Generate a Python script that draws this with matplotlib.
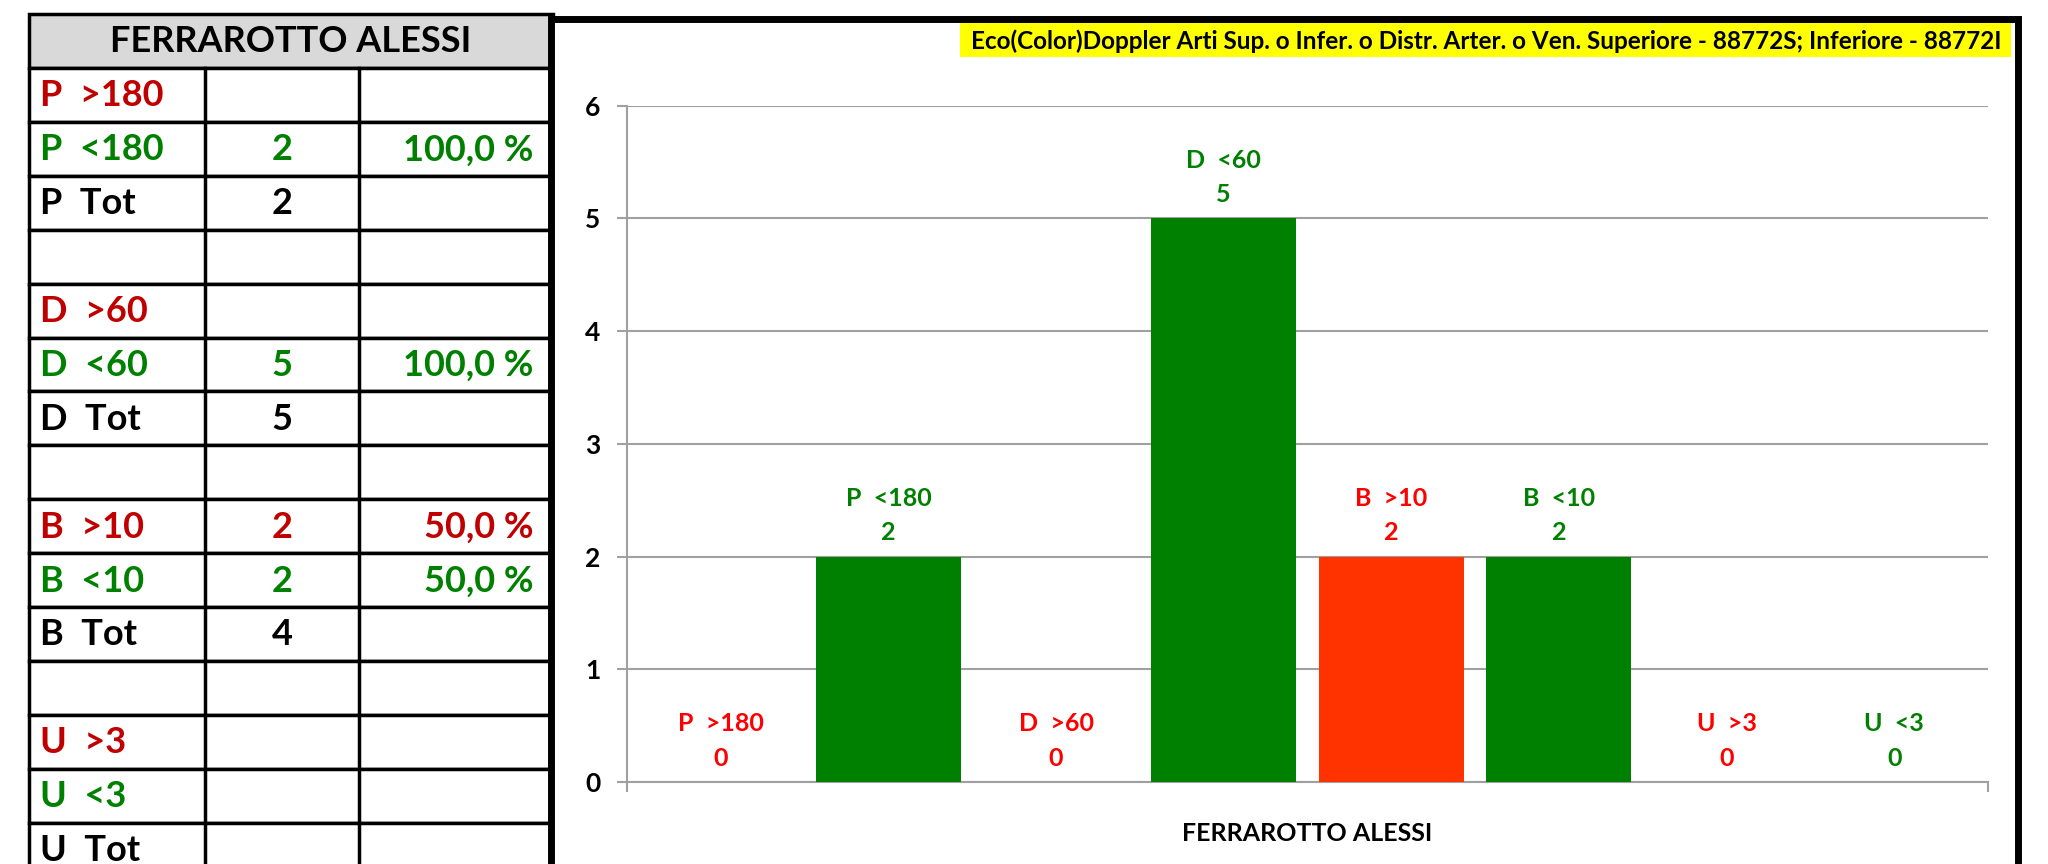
import matplotlib.pyplot as plt
from matplotlib.patches import Rectangle

plt.rcParams['font.family'] = ['Lato', 'DejaVu Sans']
plt.rcParams['font.weight'] = 'bold'
plt.rcParams['axes.labelweight'] = 'bold'

# chart data
categories = ["P  >180", "P  <180", "D  >60", "D  <60", "B  >10", "B  <10", "U  >3", "U  <3"]
values = [0, 2, 0, 5, 2, 2, 0, 0]
bar_colors = ["#ff3300", "#008000", "#ff3300", "#008000", "#ff3300", "#008000", "#ff3300", "#008000"]
label_colors = ["#ff0000", "#008000", "#ff0000", "#008000", "#ff0000", "#008000", "#ff0000", "#008000"]
group_name = "FERRAROTTO ALESSI"
title = "Eco(Color)Doppler Arti Sup. o Infer. o Distr. Arter. o Ven. Superiore - 88772S; Inferiore - 88772I"

# table data
row_labels = ["P  >180", "P  <180", "P  Tot", "", "D  >60", "D  <60", "D  Tot", "",
              "B  >10", "B  <10", "B  Tot", "", "U  >3", "U  <3", "U  Tot"]
row_counts = ["", "2", "2", "", "", "5", "5", "", "2", "2", "4", "", "", "", ""]
row_pcts = ["", "100,0 %", "", "", "", "100,0 %", "", "", "50,0 %", "50,0 %", "", "", "", "", ""]
row_colors = ["#c00000", "#008000", "black", "black"] * 4

W, H = 2048, 864
fig = plt.figure(figsize=(W / 100, H / 100), dpi=100)

# overlay in pixel units for the table and frame
ov = fig.add_axes([0, 0, 1, 1], zorder=0)
ov.set_xlim(0, W)
ov.set_ylim(H, 0)
ov.axis('off')

# table
x0, x1, x2, x3 = 29, 205, 359, 553
top, hdr_bot, rh = 14, 68, 53.9
ov.add_patch(Rectangle((x0, top), x3 - x0, hdr_bot - top, facecolor="#d9d9d9", edgecolor="black", lw=2.5))
ov.text((x0 + x3) / 2, (top + hdr_bot) / 2 + 1, group_name, ha='center', va='center', fontsize=26, color='black')
for i, lab in enumerate(row_labels):
    y = hdr_bot + i * rh
    ov.add_patch(Rectangle((x0, y), x3 - x0, rh, facecolor="white", edgecolor="black", lw=2.5))
    c = row_colors[i]
    yc = y + rh / 2 + 1
    ov.text(x0 + 11, yc, lab, ha='left', va='center', fontsize=26, color=c)
    ov.text((x1 + x2) / 2, yc, row_counts[i], ha='center', va='center', fontsize=26, color=c)
    ov.text(x3 - 20, yc, row_pcts[i], ha='right', va='center', fontsize=26, color=c)
for xv in (x1, x2):
    ov.plot([xv, xv], [hdr_bot, H + 20], color='black', lw=2.5)

# chart frame
ov.add_patch(Rectangle((551, 19), 2018 - 551, H, facecolor="white", edgecolor="black", lw=5, zorder=3))

# title box
ov.add_patch(Rectangle((960, 23), 2011 - 960, 34, facecolor="#ffff00", edgecolor="none", zorder=4))
ov.text(1486, 41, title, ha='center', va='center', fontsize=17.5, color='black', zorder=5)

# bar chart
ax = fig.add_axes([627 / W, 1 - 782 / H, (1988 - 627) / W, (782 - 105.8) / H], zorder=2)
ax.patch.set_alpha(0)
xs = list(range(len(categories)))
ax.bar(xs, values, width=0.865, color=bar_colors, zorder=3)
for i in xs:
    ax.annotate(f"{categories[i]}\n{values[i]}", xy=(i, values[i]), xytext=(0, 9),
                textcoords='offset points', ha='center', va='bottom', multialignment='center',
                fontsize=18, color=label_colors[i], linespacing=1.6, zorder=4)

ax.set_ylim(0, 6)
ax.set_xlim(-0.56, 7.56)
ax.set_yticks(range(7))
ax.yaxis.grid(True, color="#a0a0a0", lw=1.5)
ax.set_axisbelow(True)
ax.set_xticks([-0.56, 7.56])
ax.set_xticklabels(["", ""])
ax.tick_params(axis='y', colors="#a0a0a0", labelcolor='black', labelsize=19, length=7, width=1.5, pad=12)
ax.tick_params(axis='x', colors="#a0a0a0", length=7, width=1.5)
for s in ('top', 'right'):
    ax.spines[s].set_visible(False)
for s in ('left', 'bottom'):
    ax.spines[s].set_color("#a0a0a0")
    ax.spines[s].set_linewidth(1.5)
ax.set_xlabel(group_name, fontsize=18, color='black', labelpad=18)

fig.savefig("out.png", dpi=100)
